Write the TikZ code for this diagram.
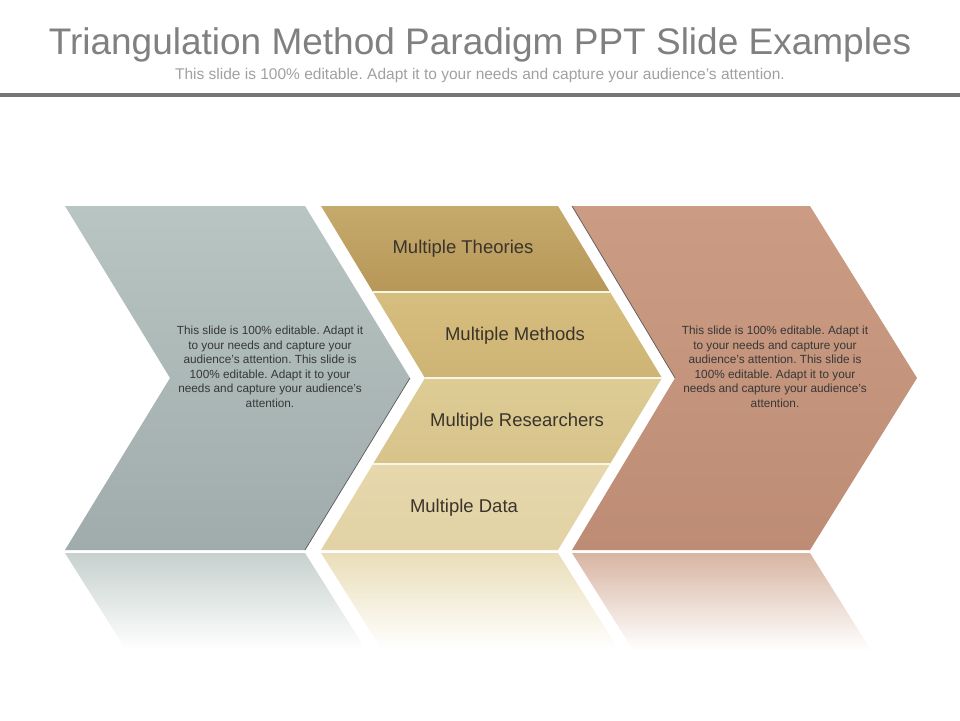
\documentclass[tikz,border=0pt]{standalone}
\usepackage{fontspec}
\setmainfont{Liberation Sans}
\usepackage{xcolor}
\definecolor{titlegray}{RGB}{128,128,128}
\definecolor{subgray}{RGB}{160,160,160}
\definecolor{rulegray}{RGB}{118,118,118}
\definecolor{notetext}{RGB}{55,55,55}
\definecolor{bandtextc}{RGB}{58,52,42}
\definecolor{slateTop}{RGB}{184,197,194}
\definecolor{slateBot}{RGB}{160,171,171}
\definecolor{clayTop}{RGB}{203,156,131}
\definecolor{clayBot}{RGB}{190,140,117}
\definecolor{goldA}{RGB}{197,170,108}
\definecolor{goldAb}{RGB}{183,151,88}
\definecolor{goldB}{RGB}{214,190,128}
\definecolor{goldBb}{RGB}{206,180,116}
\definecolor{goldC}{RGB}{222,204,150}
\definecolor{goldCb}{RGB}{215,195,138}
\definecolor{goldD}{RGB}{230,216,172}
\definecolor{goldDb}{RGB}{226,210,165}
\definecolor{bandline}{RGB}{250,246,230}
\usepackage{tikz}

\begin{document}
\frenchspacing
\begin{tikzpicture}[
    x=1pt, y=-1pt,
    note/.style={align=center, text=notetext, font=\fontsize{11.8}{14.5}\selectfont},
    bandtext/.style={text=bandtextc, font=\fontsize{18.5}{22}\selectfont},
    sep/.style={draw=bandline, line width=2pt},
    edge/.style={draw=black!65, line width=0.7pt}
]
\useasboundingbox (0,0) rectangle (960,720);

% heading
\node[anchor=base, text=titlegray, font=\fontsize{37}{40}\selectfont] (title) at (480,54) {Triangulation Method Paradigm PPT Slide Examples};
\node[anchor=base, text=subgray, font=\fontsize{15.5}{18}\selectfont] (subtitle) at (480,79) {This slide is 100\% editable. Adapt it to your needs and capture your audience’s attention.};
\draw[rulegray, line width=4pt] (0,95) -- (960,95);

% reflections
\shade[top color=slateTop!80, bottom color=white] (65,553) -- (305,553) -- (366,650) -- (126,650) -- cycle;
\shade[top color=goldD!85, bottom color=white] (321,553) -- (558,553) -- (619,650) -- (382,650) -- cycle;
\shade[top color=clayTop!75, bottom color=white] (572,553) -- (810,553) -- (871,650) -- (633,650) -- cycle;

% left chevron
\shade[top color=slateTop, bottom color=slateBot] (65,206) -- (305,206) -- (410,378) -- (305,550) -- (65,550) -- (170,378) -- cycle;
\draw[edge] (410,378) -- (305,550);

% middle chevron in four bands
\foreach \ya/\yb/\la/\lb/\ra/\rb/\ct/\cb in {206/292/321/373/558/610/goldA/goldAb,
    292/378/373/425/610/662/goldB/goldBb,
    378/464/425/373/662/610/goldC/goldCb,
    464/550/373/321/610/558/goldD/goldDb}
  \shade[top color=\ct, bottom color=\cb] (\la,\ya) -- (\ra,\ya) -- (\rb,\yb) -- (\lb,\yb) -- cycle;
\foreach \yy/\lx/\rx in {292/373/610, 378/425/662, 464/373/610}
  \draw[sep] (\lx,\yy) -- (\rx,\yy);

% right chevron
\shade[top color=clayTop, bottom color=clayBot] (572,206) -- (810,206) -- (917,378) -- (810,550) -- (572,550) -- (675,378) -- cycle;
\draw[edge] (572,206) -- (675,378);

% texts
\node[note] (leftnote) at (270,367) {This slide is 100\% editable. Adapt it\\to your needs and capture your\\audience’s attention. This slide is\\100\% editable. Adapt it to your\\needs and capture your audience’s\\attention.};
\node[note] (rightnote) at (775,367) {This slide is 100\% editable. Adapt it\\to your needs and capture your\\audience’s attention. This slide is\\100\% editable. Adapt it to your\\needs and capture your audience’s\\attention.};

\node[bandtext] (theories) at (463,249) {Multiple Theories};
\node[bandtext] (methods) at (515,336) {Multiple Methods};
\node[bandtext] (researchers) at (517,422) {Multiple Researchers};
\node[bandtext] (data) at (464,508) {Multiple Data};

\end{tikzpicture}
\end{document}
